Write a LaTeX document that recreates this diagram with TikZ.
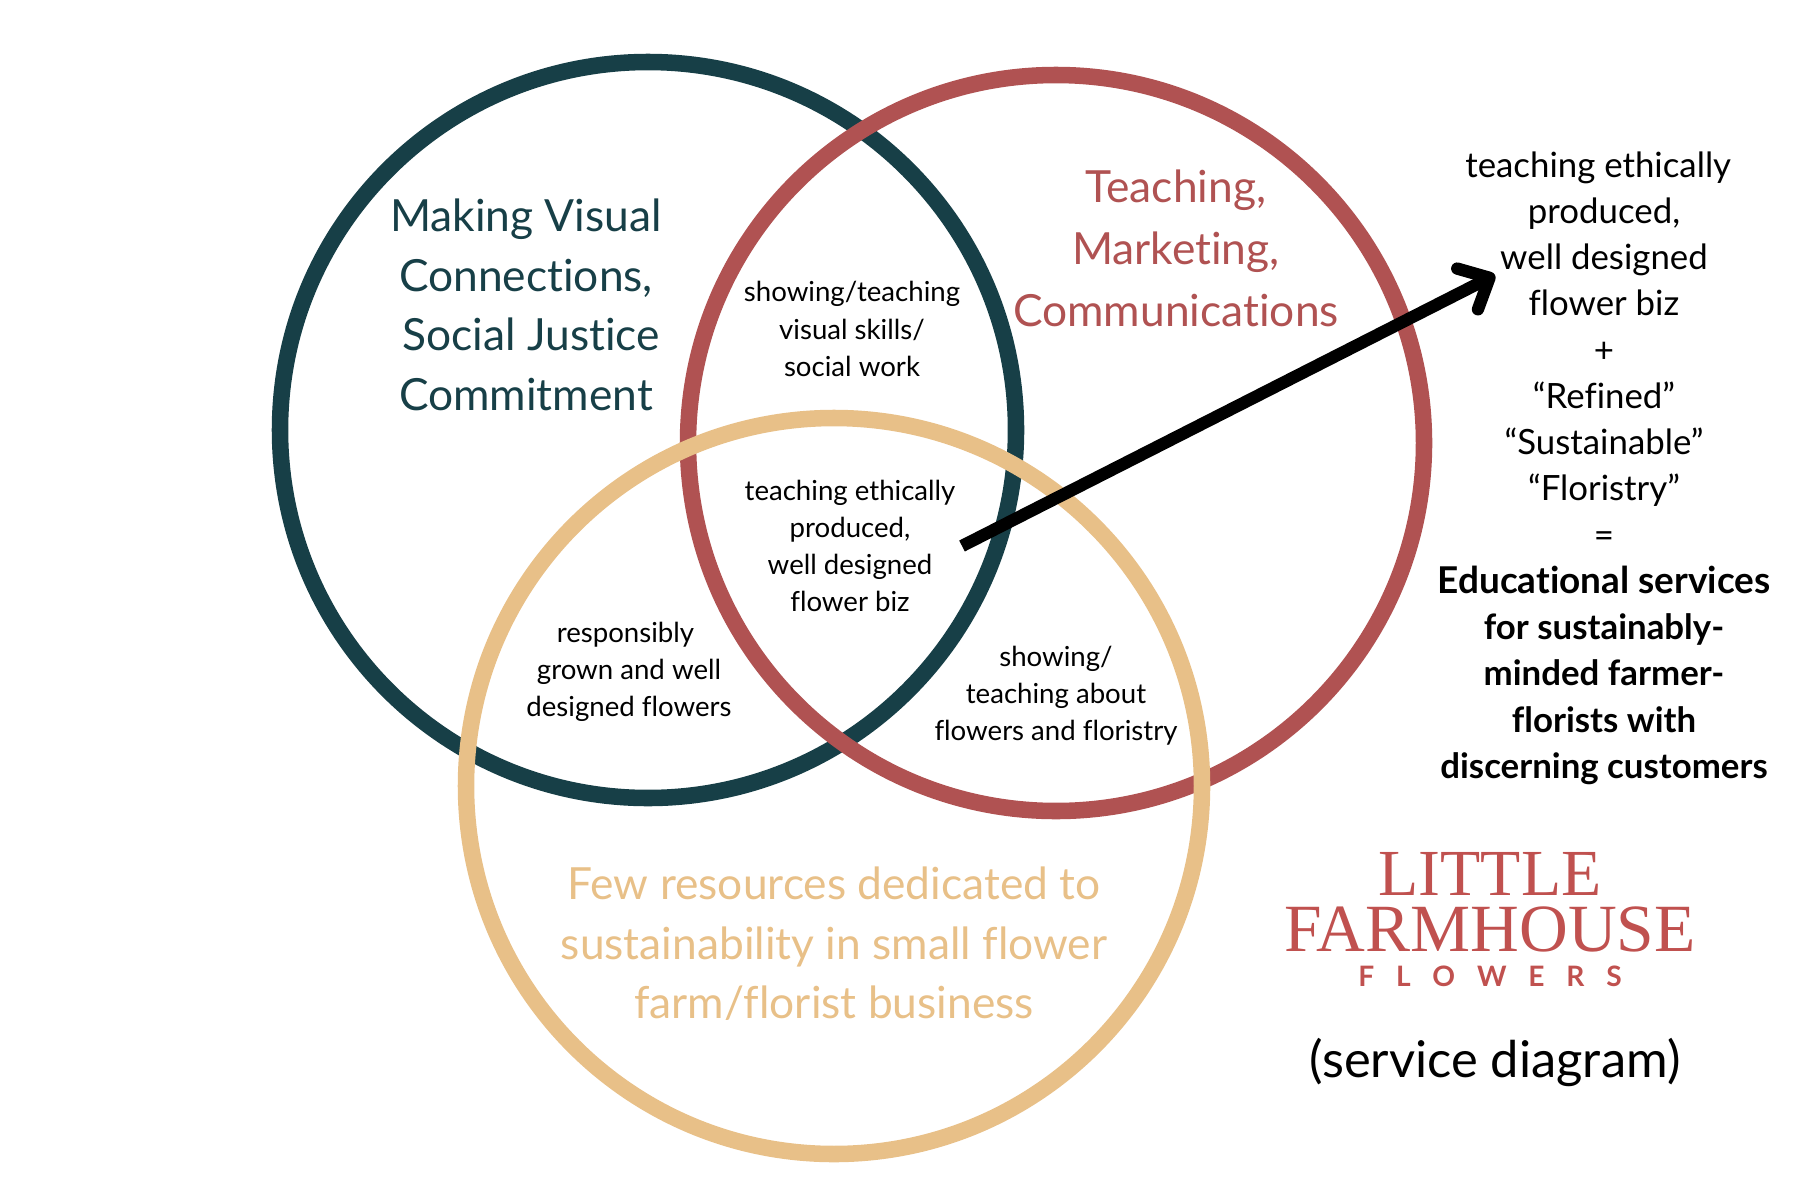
\documentclass[tikz,border=0pt]{standalone}
\usepackage{fontspec}
\setmainfont{Lato}[Ligatures=NoCommon]
\newfontfamily\logoserif{Liberation Serif}
\usepackage{xcolor}
\usetikzlibrary{arrows.meta, positioning}
\definecolor{ringteal}{HTML}{173F47}
\definecolor{ringred}{HTML}{B05252}
\definecolor{ringtan}{HTML}{E8C088}
\definecolor{logored}{HTML}{C0514F}
\tikzset{
  ring/.style={line width=4.7pt},
  biglabel/.style={align=center, font=\fontsize{12.6}{16.9}\selectfont},
  smalllabel/.style={align=center, text=black, font=\fontsize{7.85}{10.55}\selectfont},
  sidelabel/.style={align=center, text=black, font=\fontsize{9.9}{13.15}\selectfont},
  logotext/.style={text=logored, inner sep=0pt},
}
\begin{document}
\begin{tikzpicture}[x=0.01cm, y=-0.01cm]
  \useasboundingbox (0,0) rectangle (1800,1200);
  %--- the three rings ---
  \draw[ring, ringteal] (648,430) circle (368);
  \draw[ring, ringred]  (1056,443) circle (368);
  \draw[ring, ringtan]  (834,786) circle (368);
  % ring titles
  \node[biglabel, text=ringteal] (visual) at (526,305)
    {Making Visual\\Connections,\\\hspace*{3pt}Social Justice\\Commitment};
  \node[biglabel, text=ringred, font=\fontsize{12.6}{17.6}\selectfont] (teaching) at (1176,248)
    {Teaching,\\Marketing,\\Communications};
  \node[biglabel, text=ringtan] (resources) at (834,944)
    {Few resources dedicated to\\sustainability in small flower\\farm/florist business};
  % overlaps
  \node[smalllabel] (skills) at (852,329)
    {showing/teaching\\visual skills/\\social work};
  \node[smalllabel] (centre) at (850,546)
    {teaching ethically\\produced,\\well designed\\flower biz};
  \node[smalllabel] (grown) at (629,672)
    {responsibly\hspace*{2pt}\\grown and well\\designed flowers};
  \node[smalllabel] (floristry) at (1056,696)
    {showing/\\teaching about\\flowers and floristry};
  %--- result on the right ---
  \node[sidelabel] (result) at (1604,468)
    {teaching ethically\hspace*{3.3pt}\\produced,\\well designed\\flower biz\\+\\“Refined”\\“Sustainable”\\“Floristry”\\=\\
     \fontsize{10.5}{13.15}\selectfont\textbf{Educational services}\\\textbf{for sustainably-}\\\textbf{minded farmer-}\\\textbf{florists with}\\\textbf{discerning customers}};
  % arrow
  \coordinate (arrowstart) at (962,546);
  \coordinate (arrowend) at (1495,275);
  \draw[line width=3.5pt, -{Straight Barb[round, length=7pt, width=13pt]}] (arrowstart) -- (arrowend);
  %--- logo ---
  \node[logotext, align=center, font=\logoserif\fontsize{19.2}{15.9}\selectfont] (farmhouse) at (1490,902)
    {{\fontsize{18.7}{15.9}\selectfont LITTLE}\\FARMHOUSE};
  \node[logotext, font=\bfseries\fontsize{8}{8}\selectfont] (flowers) at (1490,976)
    {F\hspace{6.2pt}L\hspace{6.2pt}O\hspace{6.2pt}W\hspace{6.2pt}E\hspace{6.2pt}R\hspace{6.2pt}S};
  \node[text=black, font=\fontsize{14.4}{17}\selectfont] (service) at (1495,1062) {(service diagram)};
\end{tikzpicture}
\end{document}
